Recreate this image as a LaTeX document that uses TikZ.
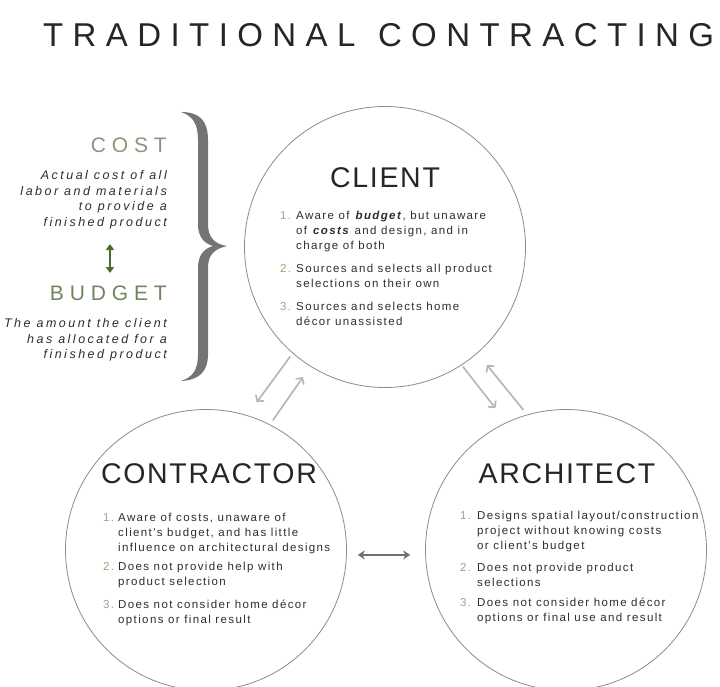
\documentclass[tikz,border=0pt]{standalone}
\usepackage{fontspec}
\setmainfont{Liberation Sans}
\usetikzlibrary{arrows.meta}
\newfontfamily\titlefont[LetterSpace=28.5]{Liberation Sans}
\newfontfamily\headfont[LetterSpace=6]{Liberation Sans}
\newfontfamily\greenfont[LetterSpace=28]{Liberation Sans}
\newfontfamily\bodyfont[LetterSpace=12]{Liberation Sans}
\newfontfamily\descfont[LetterSpace=20]{Liberation Sans}
\definecolor{circline}{HTML}{8C8C8C}
\definecolor{txt}{HTML}{2E2E2E}
\definecolor{numgray}{HTML}{A0A0A0}
\definecolor{numolive}{HTML}{A3A37A}
\definecolor{costgreen}{HTML}{86977A}
\definecolor{budgetgreen}{HTML}{71845E}
\definecolor{arrgreen}{HTML}{4E6A30}
\definecolor{bracegray}{HTML}{747474}
\definecolor{lightarr}{HTML}{B4B4B4}
\definecolor{darkarr}{HTML}{707070}
\newcommand{\nA}{\textcolor{numgray}{1.}}
\newcommand{\nB}{\textcolor{numolive}{2.}}
\newcommand{\nC}{\textcolor{numgray}{3.}}
\begin{document}
\begin{tikzpicture}[x=1pt,y=-1pt,
  circ/.style={circle,draw=circline,line width=0.8pt,minimum size=281pt,inner sep=0pt},
  titletext/.style={inner sep=0pt,text=black!85,font=\titlefont\fontsize{33}{33}\selectfont},
  headtext/.style={inner sep=0pt,text=black!85,font=\headfont\fontsize{28.5}{28.5}\selectfont},
  greentext/.style={inner sep=0pt,font=\greenfont\fontsize{21}{21}\selectfont},
  desctext/.style={inner sep=0pt,text=txt,anchor=north east,font=\descfont\itshape\fontsize{12.5}{15.5}\selectfont},
  itemtext/.style={inner sep=0pt,text=txt,anchor=north west,font=\bodyfont\fontsize{11.5}{15}\selectfont},
  garrow/.style={draw=lightarr,line width=1.6pt,-{Straight Barb[length=4.5pt,width=10pt]}},
  harrow/.style={draw=darkarr,line width=2pt,{Stealth[length=7pt,width=9pt]}-{Stealth[length=7pt,width=9pt]}},
  greenarrow/.style={draw=arrgreen,line width=2.5pt,{Triangle[length=6pt,width=8pt]}-{Triangle[length=6pt,width=8pt]}}
]
\useasboundingbox (0,0) rectangle (720,687);
\fill[white] (0,0) rectangle (720,687);

% title
\node[titletext,anchor=west] (title) at (43,35) {TRADITIONAL\hspace{4pt} CONTRACTING};

% circles
\node[circ] (client) at (385,247) {};
\node[circ] (contractor) at (206,550) {};
\node[circ] (architect) at (566,550) {};

% headings
\node[headtext] (clienthead) at (385,178) {CLIENT};
\node[headtext] (contractorhead) at (209,474) {CONTRACTOR};
\node[headtext] (architecthead) at (567,474) {ARCHITECT};

% client items
\node[itemtext] (clientitems) at (280,208.5) {%
\begin{tabular}{@{}p{16pt}@{}l@{}}
\nA & Aware of \textbf{\textit{budget}}, but unaware\\
 & of \textbf{\textit{costs}} and design, and in\\
 & charge of both\\[8pt]
\nB & Sources and selects all product\\
 & selections on their own\\[8pt]
\nC & Sources and selects home\\
 & décor unassisted
\end{tabular}};

% contractor items
\node[itemtext] (contractoritems) at (103,511) {%
\begin{tabular}{@{}p{15pt}@{}l@{}}
\nA & Aware of costs, unaware of\\
 & client's budget, and has little\\
 & influence on architectural designs\\[4pt]
\nB & Does not provide help with\\
 & product selection\\[8pt]
\nC & Does not consider home décor\\
 & options or final result
\end{tabular}};

% architect items
\node[itemtext] (architectitems) at (460,508.5) {%
\begin{tabular}{@{}p{17pt}@{}l@{}}
\nA & Designs spatial layout/construction\\
 & project without knowing costs\\
 & or client's budget\\[7pt]
\nB & Does not provide product\\
 & selections\\[5pt]
\nC & Does not consider home décor\\
 & options or final use and result
\end{tabular}};

% left legend
\node[greentext,text=costgreen,anchor=east] (cost) at (167,145) {COST};
\node[desctext] (costdesc) at (167,168.6) {%
\begin{tabular}{@{}r@{}}
Actual cost of all\\
labor and materials\\
to provide a\\
finished product
\end{tabular}};
\node[greentext,text=budgetgreen,anchor=east] (budget) at (167,293) {BUDGET};
\node[desctext] (budgetdesc) at (167,316.6) {%
\begin{tabular}{@{}r@{}}
The amount the client\\
has allocated for a\\
finished product
\end{tabular}};

\coordinate (gtop) at (110,244);
\coordinate (gbot) at (110,273);
\draw[greenarrow] (gtop) -- (gbot);

% brace
\fill[bracegray]
  (181,112) .. controls (199,112) and (208,120) .. (208,140)
  -- (208,224) .. controls (208,237) and (214,244) .. (227,246)
  .. controls (214,249) and (208,255) .. (208,268)
  -- (208,354) .. controls (208,372) and (199,380) .. (181,381)
  .. controls (193,377) and (198,370) .. (198,354)
  -- (198,268) .. controls (198,256) and (203,249) .. (213,246)
  .. controls (203,243) and (198,236) .. (198,224)
  -- (198,140) .. controls (198,124) and (193,116) .. (181,112) -- cycle;

% connectors
\draw[garrow,shorten <=4pt,shorten >=16pt] (client.229.1) -- (contractor.73.3);
\draw[garrow,shorten <=5pt,shorten >=13pt] (contractor.63.4) -- (client.238.8);
\draw[garrow,shorten <=2pt,shorten >=18pt] (client.303) -- (architect.115.1);
\draw[garrow,shorten <=6pt,shorten >=15pt] (architect.106.2) -- (client.311.8);
\draw[harrow,shorten <=11pt,shorten >=15pt] (contractor.-2.5) -- (architect.182.5);
\end{tikzpicture}
\end{document}
